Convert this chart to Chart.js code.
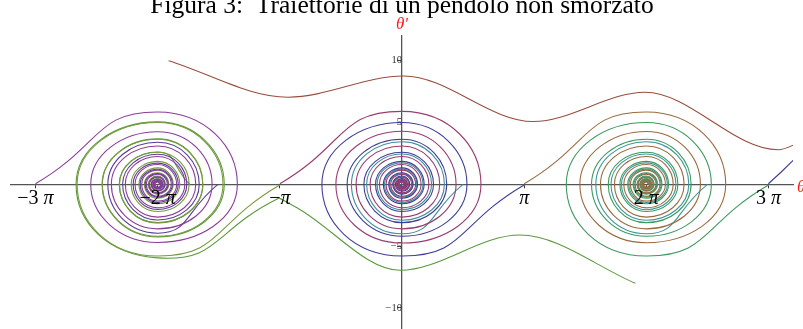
<!DOCTYPE html>
<html>
<head>
<meta charset="utf-8">
<script src="https://cdn.jsdelivr.net/npm/chart.js@4.4.0/dist/chart.umd.min.js"></script>
<style>
  html, body { margin: 0; padding: 0; background: #fff; overflow: hidden; }
  #wrap { width: 803px; height: 340px; }
</style>
</head>
<body>
<div id="wrap"><canvas id="phase" width="803" height="340"></canvas></div>
<script>
// Phase portrait of the pendulum: theta on x, theta' on y.
// Spirals are stored as [theta, theta'] offsets from the centre of their well,
// one point per axis crossing / turning point.

const titleText = 'Figura 3:  Traiettorie di un pendolo non smorzato';
const thetaTicks = [-3 * Math.PI, -2 * Math.PI, -Math.PI, Math.PI, 2 * Math.PI, 3 * Math.PI];
const thetaTickLabels = ['−3 π', '−2 π', '−π', 'π', '2 π', '3 π'];
const omegaTicks = [-10, -5, 5, 10];
const omegaTickLabels = ['−10', '−5', '5', '10'];

// centre well (around 0)
const magentaMid = [[-3.14, 0.05], [0, 5.9], [2.03, 0], [0, -4.75], [-1.70, 0], [0, 4.3], [1.39, 0], [0, -3.6], [-1.18, 0], [0, 3.1], [0.97, 0], [0, -2.65], [-0.82, 0], [0, 2.25], [0.69, 0], [0, -1.9], [-0.58, 0], [0, 1.6], [0.49, 0], [0, -1.35], [-0.41, 0], [0, 1.15], [0.35, 0], [0, -0.97], [-0.29, 0], [0, 0.82], [0.25, 0], [0, -0.69], [-0.21, 0], [0, 0.58], [0.17, 0], [0, -0.49], [-0.145, 0], [0, 0.41], [0.12, 0], [0, -0.34], [-0.1, 0], [0, 0.28], [0.085, 0], [0, -0.24], [-0.072, 0], [0, 0.2], [0.06, 0]];
const blueMid = [[3.14, -0.05], [0, -5.8], [-2.06, 0], [0, 5.0], [1.67, 0], [0, -4.2], [-1.41, 0], [0, 3.65], [1.15, 0], [0, -3.1], [-0.98, 0], [0, 2.6], [0.81, 0], [0, -2.2], [-0.68, 0], [0, 1.86], [0.57, 0], [0, -1.57], [-0.48, 0], [0, 1.33], [0.40, 0], [0, -1.12], [-0.34, 0], [0, 0.94], [0.285, 0], [0, -0.79], [-0.24, 0], [0, 0.67], [0.2, 0], [0, -0.56], [-0.17, 0], [0, 0.47], [0.14, 0], [0, -0.4], [-0.12, 0], [0, 0.34], [0.1, 0], [0, -0.29], [-0.085, 0], [0, 0.24], [0.07, 0], [0, -0.2], [-0.058, 0]];
const tealMid = [[1.57, 0], [0, -4.0], [-1.3, 0], [0, 3.45], [1.09, 0], [0, -2.9], [-0.91, 0], [0, 2.45], [0.76, 0], [0, -2.05], [-0.64, 0], [0, 1.74], [0.54, 0], [0, -1.46], [-0.45, 0], [0, 1.23], [0.38, 0], [0, -1.03], [-0.32, 0], [0, 0.87], [0.27, 0], [0, -0.73], [-0.225, 0], [0, 0.61], [0.19, 0], [0, -0.51], [-0.16, 0], [0, 0.43], [0.13, 0], [0, -0.36], [-0.11, 0], [0, 0.31], [0.092, 0], [0, -0.26], [-0.078, 0], [0, 0.22], [0.065, 0], [0, -0.18], [-0.054, 0]];

// left well (around -2 pi)
const purpleLeft = [[-3.14, 0.05], [0, 5.85], [2.05, 0], [0, -4.7], [-1.72, 0], [0, 4.25], [1.4, 0], [0, -3.6], [-1.19, 0], [0, 3.1], [0.98, 0], [0, -2.65], [-0.83, 0], [0, 2.25], [0.7, 0], [0, -1.9], [-0.58, 0], [0, 1.6], [0.49, 0], [0, -1.35], [-0.41, 0], [0, 1.15], [0.35, 0], [0, -0.97], [-0.29, 0], [0, 0.82], [0.25, 0], [0, -0.69], [-0.21, 0], [0, 0.58], [0.17, 0], [0, -0.49], [-0.145, 0], [0, 0.41], [0.12, 0], [0, -0.34], [-0.1, 0], [0, 0.28], [0.085, 0], [0, -0.24], [-0.07, 0], [0, 0.2], [0.058, 0]];
const oliveLeft = [[3.14, -0.05], [0, -5.8], [-2.07, 0], [0, 5.0], [1.68, 0], [0, -4.2], [-1.42, 0], [0, 3.65], [1.16, 0], [0, -3.1], [-0.98, 0], [0, 2.6], [0.81, 0], [0, -2.2], [-0.68, 0], [0, 1.86], [0.57, 0], [0, -1.57], [-0.48, 0], [0, 1.33], [0.40, 0], [0, -1.12], [-0.34, 0], [0, 0.94], [0.285, 0], [0, -0.79], [-0.24, 0], [0, 0.67], [0.2, 0], [0, -0.56], [-0.17, 0], [0, 0.47], [0.14, 0], [0, -0.4], [-0.12, 0], [0, 0.34], [0.1, 0], [0, -0.29], [-0.085, 0], [0, 0.24], [0.07, 0]];
const violetLeft = [[1.55, 0], [0, -3.95], [-1.28, 0], [0, 3.4], [1.07, 0], [0, -2.88], [-0.9, 0], [0, 2.43], [0.75, 0], [0, -2.04], [-0.63, 0], [0, 1.72], [0.53, 0], [0, -1.45], [-0.45, 0], [0, 1.22], [0.38, 0], [0, -1.03], [-0.32, 0], [0, 0.87], [0.27, 0], [0, -0.73], [-0.225, 0], [0, 0.61], [0.19, 0], [0, -0.51], [-0.16, 0], [0, 0.43], [0.13, 0], [0, -0.36], [-0.11, 0], [0, 0.31], [0.092, 0], [0, -0.26], [-0.078, 0], [0, 0.22], [0.065, 0]];

// right well (around 2 pi)
const brownRight = [[-3.14, 0.05], [0, 5.85], [2.04, 0], [0, -4.72], [-1.71, 0], [0, 4.28], [1.39, 0], [0, -3.6], [-1.18, 0], [0, 3.1], [0.97, 0], [0, -2.65], [-0.82, 0], [0, 2.25], [0.69, 0], [0, -1.9], [-0.58, 0], [0, 1.6], [0.49, 0], [0, -1.35], [-0.41, 0], [0, 1.15], [0.35, 0], [0, -0.97], [-0.29, 0], [0, 0.82], [0.25, 0], [0, -0.69], [-0.21, 0], [0, 0.58], [0.17, 0], [0, -0.49], [-0.145, 0], [0, 0.41], [0.12, 0], [0, -0.34], [-0.1, 0], [0, 0.28], [0.085, 0], [0, -0.24], [-0.07, 0], [0, 0.2], [0.058, 0]];
const greenRight = [[3.14, -0.05], [0, -5.8], [-2.06, 0], [0, 5.0], [1.67, 0], [0, -4.2], [-1.41, 0], [0, 3.65], [1.15, 0], [0, -3.1], [-0.98, 0], [0, 2.6], [0.81, 0], [0, -2.2], [-0.68, 0], [0, 1.86], [0.57, 0], [0, -1.57], [-0.48, 0], [0, 1.33], [0.40, 0], [0, -1.12], [-0.34, 0], [0, 0.94], [0.285, 0], [0, -0.79], [-0.24, 0], [0, 0.67], [0.2, 0], [0, -0.56], [-0.17, 0], [0, 0.47], [0.14, 0], [0, -0.4], [-0.12, 0], [0, 0.34], [0.1, 0], [0, -0.29], [-0.085, 0], [0, 0.24], [0.07, 0]];
const tealRight = [[1.57, 0], [0, -4.0], [-1.3, 0], [0, 3.45], [1.09, 0], [0, -2.9], [-0.91, 0], [0, 2.45], [0.76, 0], [0, -2.05], [-0.64, 0], [0, 1.74], [0.54, 0], [0, -1.46], [-0.45, 0], [0, 1.23], [0.38, 0], [0, -1.03], [-0.32, 0], [0, 0.87], [0.27, 0], [0, -0.73], [-0.225, 0], [0, 0.61], [0.19, 0], [0, -0.51], [-0.16, 0], [0, 0.43], [0.13, 0], [0, -0.36], [-0.11, 0], [0, 0.31], [0.092, 0], [0, -0.26], [-0.078, 0], [0, 0.22], [0.065, 0]];

// open trajectories, absolute [theta, theta'] (maxima and minima along the way)
const brownTop = [[-6.0, 10.0], [-2.93, 7.05], [0.05, 8.77], [3.37, 5.08], [6.25, 7.45], [9.67, 2.8], [10.3, 3.5]];
const greenBottom = [[6.0, -8.0], [3.03, -4.1], [-0.05, -6.95], [-2.62, -2.05], [-3.16, -1.1]];
// after slipping past the saddle at -pi it winds into the -2 pi well
const greenCaptured = [[-3.16, -1.1], [-6.28, -5.95], [-8.38, 0], [-6.28, 5.05], [-4.57, 0], [-6.28, -4.25], [-7.71, 0], [-6.28, 3.68], [-5.12, 0], [-6.28, -3.12], [-7.27, 0], [-6.28, 2.62], [-5.46, 0]];
const blueExit = [[9.42, 0.05], [9.75, 1.0], [10.3, 2.7]];

const wells = [
  { pts: magentaMid, c: 0, color: '#993d71' },
  { pts: blueMid, c: 0, color: '#3f3d99' },
  { pts: tealMid, c: 0, color: '#3d8f99' },
  { pts: purpleLeft, c: -2 * Math.PI, color: '#8a3d99' },
  { pts: violetLeft, c: -2 * Math.PI, color: '#5a3d99' },
  { pts: oliveLeft, c: -2 * Math.PI, color: '#7a9a3d' },
  { pts: brownRight, c: 2 * Math.PI, color: '#9a6a3d' },
  { pts: greenRight, c: 2 * Math.PI, color: '#3d9960' },
  { pts: tealRight, c: 2 * Math.PI, color: '#3d9799' },
  { pts: greenCaptured, c: 0, color: '#5a9a3d' }
];
const waves = [
  { pts: brownTop, color: '#994e3d' },
  { pts: greenBottom, color: '#5a9a3d' }
];

const toXY = (pts, c) => pts.map(p => ({ x: c + p[0], y: p[1] }));

const datasets = [];
wells.forEach(w => {
  datasets.push({ data: toXY(w.pts, w.c), borderColor: w.color, borderWidth: 1.1, tension: 0.55 });
});
waves.forEach(w => {
  datasets.push({ data: toXY(w.pts, 0), borderColor: w.color, borderWidth: 1.1, cubicInterpolationMode: 'monotone' });
});
datasets.push({ data: toXY(blueExit, 0), borderColor: '#3f3d99', borderWidth: 1.1, tension: 0 });

const serif = '"Liberation Serif", "DejaVu Serif", serif';

const labelsPlugin = {
  id: 'pendulumLabels',
  afterDraw(chart) {
    const { ctx, chartArea, scales } = chart;
    const y0 = scales.y.getPixelForValue(0);
    const x0 = scales.x.getPixelForValue(0);
    ctx.save();
    ctx.textBaseline = 'alphabetic';
    ctx.textAlign = 'left';
    ctx.fillStyle = '#000';
    // tick labels under the theta axis, pi in italic
    thetaTicks.forEach((v, i) => {
      const coef = thetaTickLabels[i].split('π')[0];
      ctx.font = '20px ' + serif;
      const w1 = ctx.measureText(coef).width;
      ctx.font = 'italic 20px ' + serif;
      const w2 = ctx.measureText('π').width;
      const x = scales.x.getPixelForValue(v) - (w1 + w2) / 2;
      const y = y0 + 20;
      ctx.font = '20px ' + serif;
      ctx.fillText(coef, x, y);
      ctx.font = 'italic 20px ' + serif;
      ctx.fillText('π', x + w1, y);
    });
    // axis names
    ctx.fillStyle = '#ff1a1a';
    ctx.font = 'italic 17px ' + serif;
    ctx.textAlign = 'center';
    ctx.fillText('θ′', x0, chartArea.top - 7);
    ctx.textAlign = 'left';
    ctx.fillText('θ', chartArea.right + 4, y0 + 8);
    // title
    ctx.fillStyle = '#000';
    ctx.font = '25.5px ' + serif;
    ctx.textAlign = 'center';
    ctx.fillText(titleText, x0, 13);
    ctx.restore();
  }
};

new Chart(document.getElementById('phase'), {
  type: 'scatter',
  data: { datasets },
  options: {
    responsive: false,
    animation: false,
    devicePixelRatio: 1,
    layout: { padding: { left: 11, right: 10, top: 36, bottom: 6 } },
    elements: { point: { radius: 0, hoverRadius: 0 }, line: { fill: false } },
    datasets: { scatter: { showLine: true } },
    plugins: { legend: { display: false }, tooltip: { enabled: false } },
    scales: {
      x: {
        type: 'linear', min: -3.2 * Math.PI, max: 3.2 * Math.PI,
        position: { y: 0 }, z: 1,
        afterBuildTicks: s => { s.ticks = thetaTicks.map(v => ({ value: v })); },
        ticks: { display: false },
        grid: { display: true, drawOnChartArea: false, tickLength: 3, color: '#333', lineWidth: 1 },
        border: { display: true, color: '#555', width: 1.3 }
      },
      y: {
        type: 'linear', min: -12, max: 12,
        position: { x: 0 }, z: 1,
        afterBuildTicks: s => { s.ticks = omegaTicks.map(v => ({ value: v })); },
        ticks: {
          callback: (v, i) => omegaTickLabels[i],
          font: { family: serif, size: 10.5 }, color: '#333', padding: 1
        },
        grid: { display: true, drawOnChartArea: false, tickLength: 4, color: '#444', lineWidth: 1 },
        border: { display: true, color: '#555', width: 1.3 }
      }
    }
  },
  plugins: [labelsPlugin]
});
</script>
</body>
</html>
